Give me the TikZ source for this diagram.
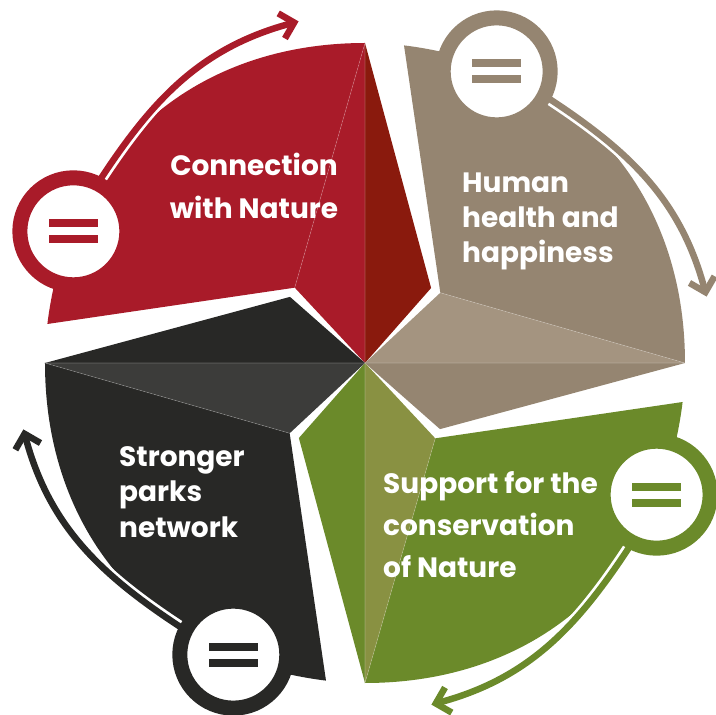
\documentclass[tikz,border=0pt]{standalone}
\usepackage{fontspec}
\setmainfont{Poppins}
\usepackage{tikz}
\usetikzlibrary{arrows.meta}

\definecolor{natred}{HTML}{A91B29}
\definecolor{natreddark}{HTML}{8A1A0D}
\definecolor{nattan}{HTML}{958571}
\definecolor{nattanlight}{HTML}{A49480}
\definecolor{natgreen}{HTML}{6B8A2A}
\definecolor{natgreenlight}{HTML}{899142}
\definecolor{natblack}{HTML}{282826}
\definecolor{natblacklight}{HTML}{3C3C3A}

\begin{document}
\begin{tikzpicture}[x=1pt, y=1pt,
    seam/.style={draw=white, draw opacity=0.25, line width=0.6pt},
    ring/.style={circle, draw=#1, fill=white, line width=15pt, minimum size=107pt, inner sep=0pt},
    cyclearrow/.style={draw=#1, line width=6.5pt, -{Straight Barb[length=13pt, width=26pt]},
        preaction={draw=white, line width=12pt}},
    petaltext/.style={text=white, inner sep=0pt, font=\bfseries\fontsize{28}{#1}\selectfont}]
    \useasboundingbox (-365,-352) rectangle (351,363);

    \coordinate (c) at (0,0);

    % connection with nature
    \coordinate (rt) at (90:320);
    \coordinate (rb) at (173:320);
    \coordinate (ri) at (133:103);
    \coordinate (rr) at (48.6:100);
    \fill[natred] (rt) to[out=180, in=83, looseness=1.04] (rb) -- (ri) -- cycle;
    \fill[natred] (rt) -- (ri) -- (c) -- cycle;
    \fill[natreddark] (rt) -- (rr) -- (c) -- cycle;
    \draw[seam] (rt) -- (ri) (rt) -- (c);

    % human health
    \coordinate (tt) at (0:320);
    \coordinate (tb) at (83:320);
    \coordinate (ti) at (43:103);
    \coordinate (tr) at (-41.4:100);
    \fill[nattan] (tt) to[out=90, in=-7, looseness=1.04] (tb) -- (ti) -- cycle;
    \fill[nattanlight] (tt) -- (ti) -- (c) -- cycle;
    \fill[nattan] (tt) -- (tr) -- (c) -- cycle;
    \draw[seam] (tt) -- (ti) (tt) -- (c);

    % conservation
    \coordinate (gt) at (270:320);
    \coordinate (gb) at (353:320);
    \coordinate (gi) at (313:103);
    \coordinate (gr) at (228.6:100);
    \fill[natgreen] (gt) to[out=0, in=263, looseness=1.04] (gb) -- (gi) -- cycle;
    \fill[natgreenlight] (gt) -- (gi) -- (c) -- cycle;
    \fill[natgreen] (gt) -- (gr) -- (c) -- cycle;
    \draw[seam] (gt) -- (gi) (gt) -- (c);

    % parks network
    \coordinate (kt) at (180:320);
    \coordinate (kb) at (263:320);
    \coordinate (ki) at (223:103);
    \coordinate (kr) at (138.6:100);
    \fill[natblack] (kt) to[out=270, in=173, looseness=1.04] (kb) -- (ki) -- cycle;
    \fill[natblacklight] (kt) -- (ki) -- (c) -- cycle;
    \fill[natblack] (kt) -- (kr) -- (c) -- cycle;
    \draw[seam] (kt) -- (ki) (kt) -- (c);

    % arrows round the cycle
    \coordinate (redfrom) at (146:322);
    \coordinate (redto) at (101:348);
    \coordinate (tanfrom) at (56:322);
    \coordinate (tanto) at (11:348);
    \coordinate (greenfrom) at (-34:322);
    \coordinate (greento) at (-79:348);
    \coordinate (blackfrom) at (236:322);
    \coordinate (blackto) at (191:348);
    \draw[cyclearrow=natred] (redfrom) to[out=57, in=195] (redto);
    \draw[cyclearrow=nattan] (tanfrom) to[out=-33, in=105] (tanto);
    \draw[cyclearrow=natgreen] (greenfrom) to[out=-123, in=15] (greento);
    \draw[cyclearrow=natblack] (blackfrom) to[out=147, in=285] (blackto);

    \node[ring=natred] (redring) at (155.7:320) {};
    \node[ring=nattan] (tanring) at (65.7:320) {};
    \node[ring=natgreen] (greenring) at (-24.3:320) {};
    \node[ring=natblack] (blackring) at (245.7:320) {};

    \fill[natred] ([xshift=-24.5pt, yshift=4pt]redring.center) rectangle ++(49,8);
    \fill[natred] ([xshift=-24.5pt, yshift=-12pt]redring.center) rectangle ++(49,8);
    \fill[nattan] ([xshift=-24.5pt, yshift=4pt]tanring.center) rectangle ++(49,8);
    \fill[nattan] ([xshift=-24.5pt, yshift=-12pt]tanring.center) rectangle ++(49,8);
    \fill[natgreen] ([xshift=-24.5pt, yshift=4pt]greenring.center) rectangle ++(49,8);
    \fill[natgreen] ([xshift=-24.5pt, yshift=-12pt]greenring.center) rectangle ++(49,8);
    \fill[natblack] ([xshift=-24.5pt, yshift=4pt]blackring.center) rectangle ++(49,8);
    \fill[natblack] ([xshift=-24.5pt, yshift=-12pt]blackring.center) rectangle ++(49,8);

    \node[petaltext=43, align=center, anchor=north] (redtext) at (-111,210) {Connection\\with Nature};
    \node[petaltext=35, align=left, anchor=north west] (tantext) at (97,190) {Human\\health and\\happiness};
    \node[petaltext=42, align=left, anchor=north west] (greentext) at (18,-108) {Support for the\\conservation\\of Nature};
    \node[petaltext=35.5, align=left, anchor=north west] (blacktext) at (-246,-83) {Stronger\\parks\\network};
\end{tikzpicture}
\end{document}
